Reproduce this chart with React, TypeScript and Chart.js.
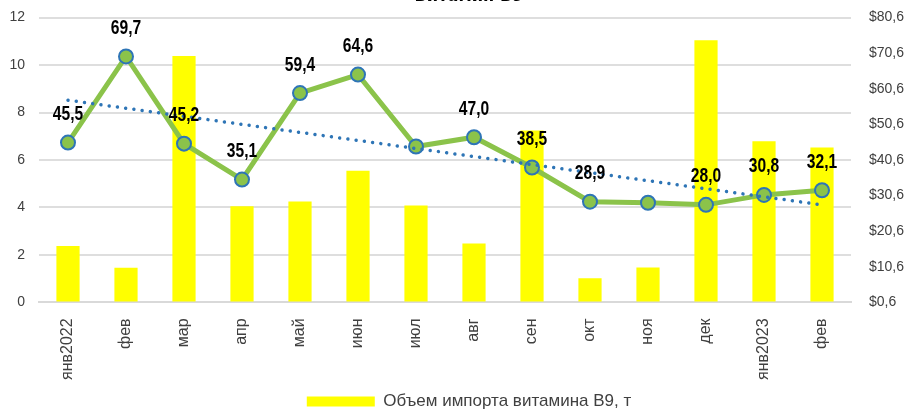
import React, { useEffect, useRef } from "react";
import { Chart, registerables } from "chart.js";

Chart.register(...registerables);

const categories = ["янв2022", "фев", "мар", "апр", "май", "июн", "июл", "авг", "сен", "окт", "ноя", "дек", "янв2023", "фев"];
const importVolume = [2.38, 1.46, 10.38, 4.05, 4.25, 5.55, 4.08, 2.48, 7.24, 1.02, 1.47, 11.05, 6.79, 6.53];
const priceValues = [45.5, 69.7, 45.2, 35.1, 59.4, 64.6, 44.4, 47.0, 38.5, 28.9, 28.6, 28.0, 30.8, 32.1];
const priceLabels = ["45,5", "69,7", "45,2", "35,1", "59,4", "64,6", null, "47,0", "38,5", "28,9", null, "28,0", "30,8", "32,1"];
const trendValues = [57.4, null, null, null, null, null, null, null, null, null, null, null, null, 28.0];
const leftTicks = [0, 2, 4, 6, 8, 10, 12];
const rightTicks = [0.6, 10.6, 20.6, 30.6, 40.6, 50.6, 60.6, 70.6, 80.6];

const TITLE = "Витамин В9";
const BAR_LABEL = "Объем импорта витамина В9, т";
const LINE_LABEL = "Цена, $/кг";
const TREND_LABEL = "Линейная (Цена, $/кг)";

const labelPlugin = {
  id: "pointLabels",
  afterDatasetsDraw(chart: any) {
    const ctx = chart.ctx;
    const meta = chart.getDatasetMeta(1);
    const sx = 0.78;
    ctx.save();
    ctx.font = 'bold 20px "Liberation Sans", Arial, sans-serif';
    ctx.fillStyle = "#000000";
    ctx.textAlign = "center";
    ctx.textBaseline = "middle";
    meta.data.forEach((pt: any, i: number) => {
      const t = priceLabels[i];
      if (!t) return;
      ctx.save();
      ctx.translate(pt.x, pt.y - 28);
      ctx.scale(sx, 1);
      ctx.fillText(t, 0, 0);
      ctx.restore();
    });
    ctx.restore();
  },
};

export default function App() {
  const ref = useRef<HTMLCanvasElement>(null);
  useEffect(() => {
    const chart = new Chart(ref.current!, {
      type: "bar",
      data: {
        labels: categories,
        datasets: [
          {
            type: "bar",
            label: BAR_LABEL,
            data: importVolume,
            backgroundColor: "#ffff00",
            yAxisID: "y",
            barPercentage: 0.8,
            categoryPercentage: 0.5,
            order: 3,
          },
          {
            type: "line",
            label: LINE_LABEL,
            data: priceValues,
            borderColor: "#8bc34a",
            borderWidth: 5,
            pointRadius: 7,
            pointBackgroundColor: "#8bc34a",
            pointBorderColor: "#2e75b6",
            pointBorderWidth: 2,
            yAxisID: "y1",
            order: 2,
          },
          {
            type: "line",
            label: TREND_LABEL,
            data: trendValues,
            spanGaps: true,
            borderColor: "#2e75b6",
            borderWidth: 3.5,
            borderDash: [0.01, 8.3],
            borderCapStyle: "round",
            pointRadius: 0,
            yAxisID: "y1",
            order: 1,
          },
        ] as any,
      },
      options: {
        animation: false,
        responsive: true,
        maintainAspectRatio: false,
        layout: { padding: 0 },
        plugins: {
          title: {
            display: true,
            text: TITLE,
            color: "#000000",
            font: { family: '"DejaVu Sans Condensed", "Liberation Sans", sans-serif', size: 18, weight: "bold" },
            padding: { top: 5.5, bottom: 10.5 },
          },
          legend: {
            position: "bottom",
            labels: {
              filter: (item: any) => item.datasetIndex === 0,
              boxWidth: 68,
              boxHeight: 10,
              color: "#404040",
              font: { family: '"Liberation Sans", Arial, sans-serif', size: 17 },
              padding: 10,
            },
          },
          tooltip: { enabled: false },
        },
        scales: {
          x: {
            grid: { display: false, drawTicks: false },
            border: { display: true, color: "#d9d9d9", width: 2 },
            afterFit: (axis: any) => {
              axis.height -= 13;
            },
            ticks: {
              minRotation: 90,
              maxRotation: 90,
              padding: 16,
              color: "#404040",
              font: { family: '"Liberation Sans", Arial, sans-serif', size: 16 },
            },
          },
          y: {
            position: "left",
            min: 0,
            max: 12,
            afterBuildTicks: (axis: any) => {
              axis.ticks = leftTicks.map((v) => ({ value: v }));
            },
            afterFit: (axis: any) => {
              axis.width = 39;
            },
            grid: { color: "#dedede", lineWidth: 2, drawTicks: false },
            border: { display: false },
            ticks: {
              padding: 14,
              color: "#404040",
              font: { family: '"Liberation Sans", Arial, sans-serif', size: 14 },
            },
          },
          y1: {
            position: "right",
            min: 0.6,
            max: 80.6,
            afterBuildTicks: (axis: any) => {
              axis.ticks = rightTicks.map((v) => ({ value: v }));
            },
            afterFit: (axis: any) => {
              axis.width = 87;
            },
            grid: { display: false, drawTicks: false },
            border: { display: false },
            ticks: {
              padding: 18,
              color: "#404040",
              font: { family: '"Liberation Sans", Arial, sans-serif', size: 14 },
              callback: (v: any) => "$" + Number(v).toFixed(1).replace(".", ","),
            },
          },
        },
      },
      plugins: [labelPlugin],
    });
    return () => chart.destroy();
  }, []);
  return (
    <div style={{ position: "fixed", left: 0, top: 0, width: 910, height: 410, overflow: "hidden" }}>
      <div style={{ position: "absolute", left: 0, top: -20, width: 938, height: 440 }}>
        <canvas ref={ref} />
      </div>
    </div>
  );
}
